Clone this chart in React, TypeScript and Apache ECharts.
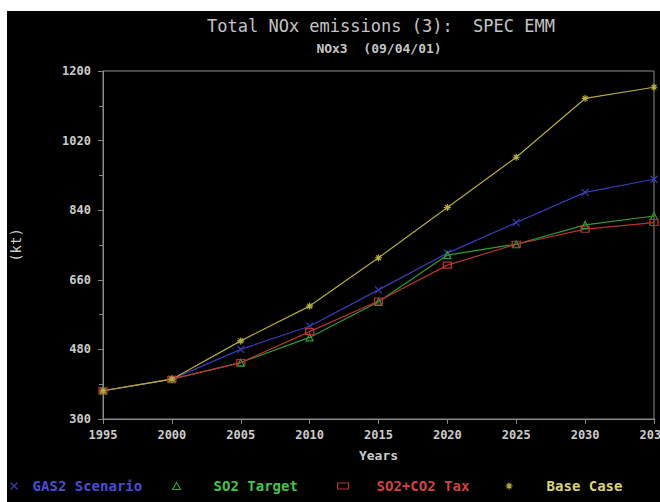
import React, { useEffect, useRef } from "react";
import * as echarts from "echarts";

// Projection years and emissions (kt) per scenario
const years = [1995, 2000, 2005, 2010, 2015, 2020, 2025, 2030, 2035];
const gas2Scenario = [373, 403, 480, 540, 634, 729, 808, 886, 920];
const so2Target = [373, 403, 446, 511, 603, 724, 752, 802, 825];
const so2co2Tax = [373, 403, 446, 526, 605, 698, 752, 791, 808];
const baseCase = [373, 403, 502, 592, 717, 847, 977, 1129, 1158];

const titleText = "Total NOx emissions (3):  SPEC EMM";
const subtitleText = "NOx3  (09/04/01)";

const MONO = '"DejaVu Sans Mono", "Liberation Mono", monospace';

const CROSS = "path://M0,0L10,10M10,0L0,10";
const STAR = "path://M5,0L5,10M0,5L10,5M1.5,1.5L8.5,8.5M8.5,1.5L1.5,8.5";

type Def = {
  name: string;
  data: number[];
  line: string;
  text: string;
  symbol: string;
  legendLeft: number;
  pad: number;
  iw: number;
  ih: number;
};

const defs: Def[] = [
  { name: "GAS2 Scenario", data: gas2Scenario, line: "#3c3cb8", text: "#4c4cd4", symbol: CROSS, legendLeft: 3, pad: 10, iw: 7, ih: 7 },
  { name: "SO2 Target", data: so2Target, line: "#2f9f2f", text: "#48c448", symbol: "triangle", legendLeft: 165, pad: 28, iw: 8, ih: 7 },
  { name: "SO2+CO2 Tax", data: so2co2Tax, line: "#b83232", text: "#d04444", symbol: "rect", legendLeft: 330, pad: 23, iw: 11, ih: 6 },
  { name: "Base Case", data: baseCase, line: "#b4ac3c", text: "#dcd474", symbol: STAR, legendLeft: 498, pad: 29, iw: 7, ih: 7 },
];

export default function App() {
  const ref = useRef<HTMLDivElement>(null);

  useEffect(() => {
    if (!ref.current) return;
    const chart = echarts.init(ref.current, undefined, { renderer: "svg" });

    const axisGrey = "#8a8a8a";
    const labelGrey = "#cccccc";

    chart.setOption({
      animation: false,
      backgroundColor: "#000",
      graphic: [
        {
          type: "text",
          x: 374,
          y: 15,
          style: {
            text: titleText,
            fill: "#c4c4c4",
            fontSize: 17,
            fontFamily: MONO,
            align: "center",
            verticalAlign: "middle",
          },
        },
        {
          type: "text",
          x: 372,
          y: 37,
          style: {
            text: subtitleText,
            fill: "#c4c4c4",
            fontSize: 13,
            fontWeight: "bold",
            fontFamily: MONO,
            align: "center",
            verticalAlign: "middle",
          },
        },
      ],
      grid: {
        left: 96,
        top: 60,
        right: 6,
        bottom: 83,
        show: true,
        borderColor: axisGrey,
        borderWidth: 1,
        containLabel: false,
        outerBoundsMode: "none",
      },
      xAxis: {
        type: "value",
        min: 1995,
        max: 2035,
        interval: 5,
        name: "Years",
        nameLocation: "middle",
        nameGap: 30,
        nameTextStyle: { color: labelGrey, fontFamily: MONO, fontSize: 13, fontWeight: "bold" },
        axisLine: { lineStyle: { color: axisGrey } },
        axisTick: { show: true, length: 5, lineStyle: { color: axisGrey } },
        splitLine: { show: false },
        axisLabel: {
          color: labelGrey,
          fontFamily: MONO,
          fontSize: 12,
          fontWeight: "bold",
          margin: 10,
          hideOverlap: false,
          formatter: (v: number) => String(v),
        },
      },
      yAxis: {
        type: "value",
        min: 300,
        max: 1200,
        interval: 180,
        name: "(kt)",
        nameLocation: "middle",
        nameGap: 80,
        nameTextStyle: { color: labelGrey, fontFamily: MONO, fontSize: 14 },
        axisLine: { show: true, lineStyle: { color: axisGrey } },
        axisTick: { show: true, length: 5, lineStyle: { color: axisGrey } },
        minorTick: { show: true, splitNumber: 2, length: 4, lineStyle: { color: axisGrey } },
        splitLine: { show: false },
        axisLabel: {
          color: labelGrey,
          fontFamily: MONO,
          fontSize: 12,
          fontWeight: "bold",
          margin: 12,
          formatter: (v: number) => String(v),
        },
      },
      legend: defs.map((d) => ({
        left: d.legendLeft,
        top: 468,
        padding: 0,
        itemWidth: d.iw,
        itemHeight: d.ih,
        selectedMode: false,
        textStyle: {
          fontFamily: MONO,
          fontSize: 14,
          fontWeight: "bold",
          padding: [0, 0, 0, d.pad],
        },
        data: [
          {
            name: d.name,
            icon: d.symbol,
            itemStyle: { color: "transparent", borderColor: d.line, borderWidth: 1.2 },
            textStyle: { color: d.text },
          },
        ],
      })),
      series: defs.map((d) => ({
        name: d.name,
        type: "line",
        data: years.map((y, i) => [y, d.data[i]]),
        symbol: d.symbol,
        symbolSize: d.symbol === "rect" ? [8, 6] : 7,
        showSymbol: true,
        lineStyle: { color: d.line, width: 1.2 },
        itemStyle: { color: "transparent", borderColor: d.line, borderWidth: 1.2 },
        emphasis: { disabled: true },
      })),
    });

    return () => chart.dispose();
  }, []);

  return (
    <div
      ref={ref}
      style={{ position: "absolute", left: 7, top: 11, width: 653, height: 491 }}
    />
  );
}
